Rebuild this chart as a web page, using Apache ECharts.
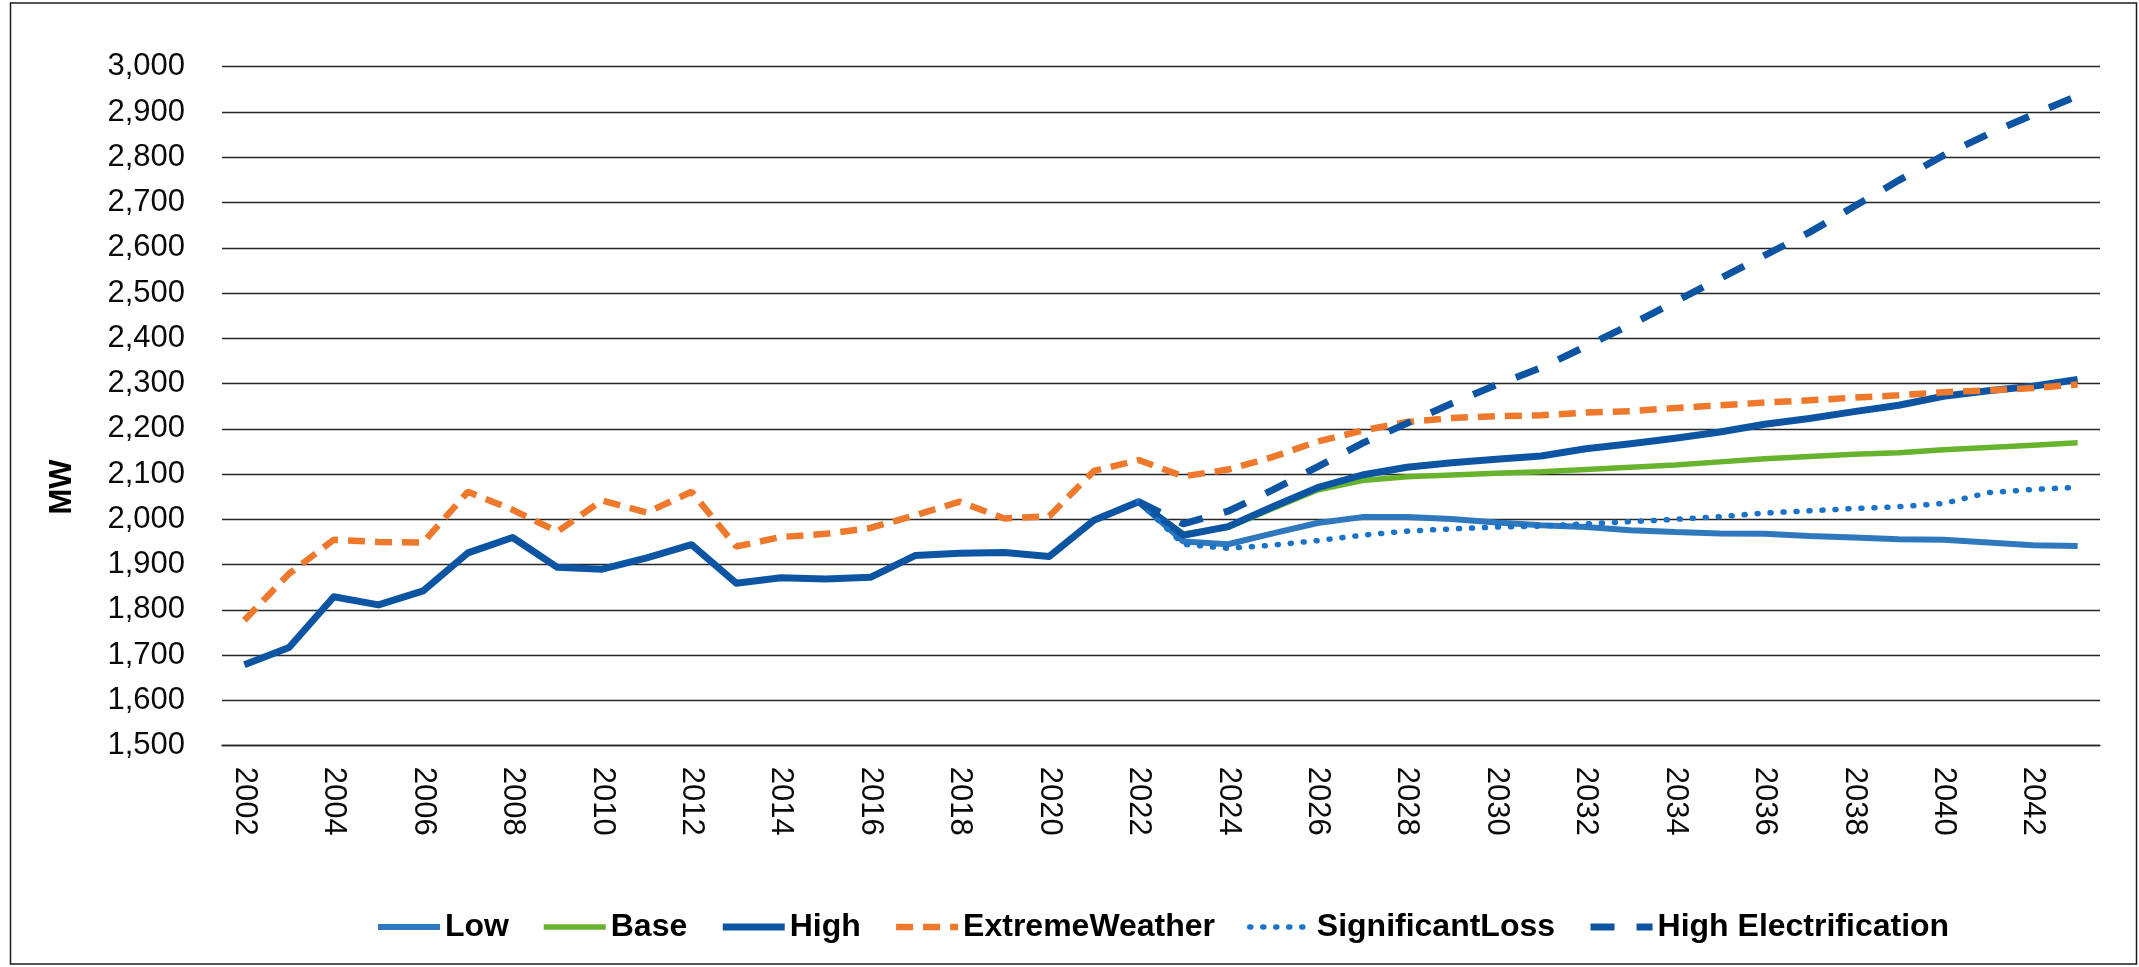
<!DOCTYPE html>
<html>
<head>
<meta charset="utf-8">
<script src="https://cdn.jsdelivr.net/npm/echarts@6/dist/echarts.min.js"></script>
<style>
  html, body { margin: 0; padding: 0; background: #ffffff; }
  #chart { width: 2139px; height: 967px; }
</style>
</head>
<body>
<div id="chart"></div>
<script>
// Peak demand (MW), actuals 2002-2022 and scenario forecasts to 2043
const years = ['2002','2003','2004','2005','2006','2007','2008','2009','2010','2011','2012',
  '2013','2014','2015','2016','2017','2018','2019','2020','2021','2022','2023','2024','2025',
  '2026','2027','2028','2029','2030','2031','2032','2033','2034','2035','2036','2037','2038',
  '2039','2040','2041','2042','2043'];

// Recorded peaks 2002-2022
const actual = [1679, 1717, 1829, 1811, 1842, 1926, 1960, 1894, 1890, 1915, 1944,
  1859, 1871, 1868, 1872, 1920, 1925, 1927, 1918, 1998, 2039];

// Weather-adjusted extreme peaks 2002-2022
const extremeHistory = [1777, 1880, 1955, 1950, 1949, 2061, 2021, 1973, 2042, 2015, 2061,
  1940, 1961, 1968, 1981, 2009, 2039, 2002, 2007, 2107, 2131];

// Forecasts 2023-2043
const lowForecast = [1951, 1945, 1969, 1992, 2005, 2005, 2001, 1993, 1987, 1983, 1976,
  1972, 1969, 1968, 1963, 1960, 1956, 1955, 1949, 1943, 1941];
const baseForecast = [1968, 1982, 2024, 2065, 2086, 2094, 2098, 2102, 2105, 2110, 2115,
  2120, 2127, 2134, 2139, 2144, 2147, 2154, 2159, 2164, 2169];
const highForecast = [1965, 1984, 2028, 2070, 2098, 2115, 2125, 2133, 2140, 2156, 2167,
  2179, 2193, 2210, 2223, 2238, 2252, 2272, 2284, 2294, 2309];
const extremeForecast = [2095, 2110, 2138, 2172, 2196, 2215, 2224, 2228, 2230, 2236, 2239,
  2246, 2252, 2258, 2263, 2269, 2274, 2281, 2285, 2290, 2298];
const sigLossForecast = [1945, 1936, 1943, 1953, 1965, 1974, 1979, 1983, 1985, 1990, 1995,
  2000, 2006, 2014, 2019, 2024, 2028, 2035, 2059, 2066, 2071];
const electrificationForecast = [1990, 2018, 2065, 2116, 2168, 2212, 2256, 2297, 2335, 2382, 2430,
  2481, 2532, 2583, 2634, 2691, 2749, 2804, 2851, 2894, 2936];

const seriesNames = ['Low', 'Base', 'High', 'ExtremeWeather', 'SignificantLoss', 'High Electrification'];

const FONT = '"Liberation Sans", Arial, Helvetica, sans-serif';
const GRID_COLOR = '#262626';

// Scenario lines branch from the last recorded year (2022)
const lastActualIdx = actual.length - 1;
function branch(forecast) {
  return years.map((y, i) => {
    if (i < lastActualIdx) return null;
    if (i === lastActualIdx) return actual[lastActualIdx];
    return forecast[i - lastActualIdx - 1];
  });
}
function full(history, forecast) {
  return history.concat(forecast);
}

const chart = echarts.init(document.getElementById('chart'), null, { renderer: 'canvas' });

chart.setOption({
  animation: false,
  backgroundColor: '#ffffff',
  grid: { left: 222, right: 39, top: 66.7, bottom: 221.3, containLabel: false },
  xAxis: {
    type: 'category',
    data: years,
    boundaryGap: true,
    axisLine: { show: true, lineStyle: { color: GRID_COLOR, width: 1.3 } },
    axisTick: { show: false },
    axisLabel: {
      interval: 1,
      rotate: -90,
      margin: 21,
      fontSize: 31,
      fontFamily: FONT,
      color: '#0a0a0a'
    },
    splitLine: { show: false }
  },
  yAxis: {
    type: 'value',
    min: 1500,
    max: 3000,
    interval: 100,
    axisLine: { show: false },
    axisTick: { show: false },
    axisLabel: {
      margin: 37,
      fontSize: 31,
      fontFamily: FONT,
      color: '#0a0a0a',
      formatter: v => v.toLocaleString('en-US')
    },
    splitLine: { show: true, lineStyle: { color: GRID_COLOR, width: 1.3 } }
  },
  legend: {
    data: seriesNames,
    left: 370,
    top: 906,
    itemWidth: 62,
    itemHeight: 14,
    itemGap: 32,
    lineStyle: { width: 'inherit' },
    itemStyle: { opacity: 0 },
    textStyle: { fontSize: 32, fontWeight: 'bold', fontFamily: FONT, color: '#000000' }
  },
  graphic: [
    {
      type: 'rect',
      shape: { x: 10.5, y: 3, width: 2126, height: 961 },
      style: { fill: 'none', stroke: '#1c1c1c', lineWidth: 1.5 },
      silent: true
    },
    {
      type: 'text',
      x: 62,
      y: 487,
      rotation: Math.PI / 2,
      style: {
        text: 'MW',
        fontSize: 31,
        fontWeight: 'bold',
        fontFamily: FONT,
        fill: '#000000',
        align: 'center',
        verticalAlign: 'middle',
        textAlign: 'center',
        textVerticalAlign: 'middle'
      },
      silent: true
    }
  ],
  series: [
    {
      name: 'Low', type: 'line', symbol: 'none',
      data: branch(lowForecast),
      lineStyle: { color: '#2f78be', width: 6 },
      itemStyle: { color: '#2f78be' }
    },
    {
      name: 'Base', type: 'line', symbol: 'none',
      data: branch(baseForecast),
      lineStyle: { color: '#67b32e', width: 5.5 },
      itemStyle: { color: '#67b32e' }
    },
    {
      name: 'High', type: 'line', symbol: 'none',
      data: full(actual, highForecast),
      lineStyle: { color: '#0d55a3', width: 7, join: 'round' },
      itemStyle: { color: '#0d55a3' }
    },
    {
      name: 'ExtremeWeather', type: 'line', symbol: 'none',
      data: full(extremeHistory, extremeForecast),
      lineStyle: { color: '#ee782b', width: 6.5, type: [17, 10], cap: 'butt' },
      itemStyle: { color: '#ee782b' }
    },
    {
      name: 'SignificantLoss', type: 'line', symbol: 'none',
      data: branch(sigLossForecast),
      lineStyle: { color: '#1b72c9', width: 5.5, type: [1, 12], cap: 'round' },
      itemStyle: { color: '#1b72c9' }
    },
    {
      name: 'High Electrification', type: 'line', symbol: 'none',
      data: branch(electrificationForecast),
      lineStyle: { color: '#0d55a3', width: 7, type: [24, 22], cap: 'butt' },
      itemStyle: { color: '#0d55a3' }
    }
  ]
});
</script>
</body>
</html>
